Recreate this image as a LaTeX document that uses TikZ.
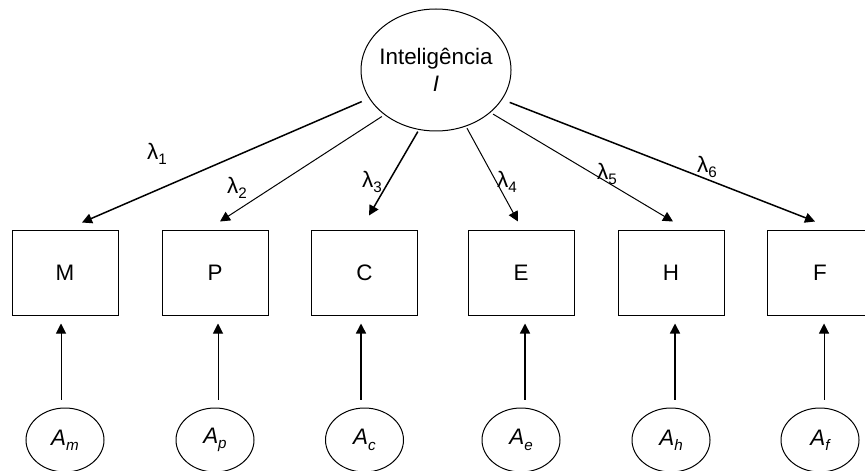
\documentclass[tikz,border=0pt]{standalone}
\usepackage{fontspec}
\setmainfont{Liberation Sans}
\usetikzlibrary{calc, shapes.geometric, arrows.meta}

\newcommand{\lowsub}[1]{\raisebox{-0.45ex}{\fontsize{7.6}{9}\selectfont #1}}

\begin{document}
\begin{tikzpicture}[x=0.5pt, y=-0.5pt, line width=0.5pt, >={Triangle[length=5pt, width=5pt]},
        font=\fontsize{11.2}{13.5}\selectfont,
        indicator/.style={draw, rectangle, inner sep=0pt, minimum width=53pt, minimum height=42.5pt},
        factor/.style={draw, ellipse, inner sep=0pt, minimum width=75pt, minimum height=61pt},
        residual/.style={draw, ellipse, inner sep=0pt, minimum width=39pt, minimum height=32pt},
        heavy/.style={line width=0.75pt}]
        \clip (0,0) rectangle (865,470);

        \node[factor] (intel) at (436,70) {};
        \node[align=center] (intelname) at (intel) {Inteligência\\ \textit{I}};

        \node[indicator] (M) at (65,272.5) {M};
        \node[indicator] (P) at (215,272.5) {P};
        \node[indicator] (C) at (364.5,272.5) {C};
        \node[indicator] (E) at (521,272.5) {E};
        \node[indicator] (H) at (671,272.5) {H};
        \node[indicator] (F) at (820,272.5) {F};

        \node[residual] (Am) at (65,440) {\textit{A\lowsub{m}}};
        \node[residual] (Ap) at (215,440) {\textit{A\lowsub{p}}};
        \node[residual] (Ac) at (364.5,440) {\textit{A\lowsub{c}}};
        \node[residual] (Ae) at (521,440) {\textit{A\lowsub{e}}};
        \node[residual] (Ah) at (671,440) {\textit{A\lowsub{h}}};
        \node[residual] (Af) at (820,440) {\textit{A\lowsub{f}}};

        % loadings
        \draw[->, heavy, shorten <=4pt] (intel.203) -- ($(M.north)+(17,-7)$);
        \draw[->, shorten <=1.5pt] (intel.221) -- ($(P.north)+(5,-8)$);
        \draw[->, heavy, shorten <=1pt] (intel.254) -- ($(C.north)+(4.5,-14)$);
        \draw[->, shorten <=1pt] (intel.298) -- ($(E.north)+(-3,-8)$);
        \draw[->, shorten <=1.5pt] (intel.322) -- ($(H.north)+(2,-8)$);
        \draw[->, heavy, shorten <=4pt] (intel.336) -- ($(F.north)+(-5,-8)$);

        \node (l1) at (157,154) {λ\lowsub{1}};
        \node (l2) at (237,188) {λ\lowsub{2}};
        \node (l3) at (372,182) {λ\lowsub{3}};
        \node (l4) at (507,182) {λ\lowsub{4}};
        \node (l5) at (607,174) {λ\lowsub{5}};
        \node (l6) at (707,167) {λ\lowsub{6}};

        % residuals
        \draw[->, shorten <=4pt, shorten >=4pt] ([xshift=-2pt]Am.north) -- ([xshift=-2pt]M.south);
        \draw[->, shorten <=4pt, shorten >=4pt] ([xshift=1.5pt]Ap.north) -- ([xshift=1.5pt]P.south);
        \draw[->, heavy, shorten <=4pt, shorten >=4pt] ([xshift=-1.75pt]Ac.north) -- ([xshift=-1.75pt]C.south);
        \draw[->, heavy, shorten <=4pt, shorten >=4pt] ([xshift=2pt]Ae.north) -- ([xshift=2pt]E.south);
        \draw[->, heavy, shorten <=4pt, shorten >=4pt] ([xshift=2pt]Ah.north) -- ([xshift=2pt]H.south);
        \draw[->, shorten <=4pt, shorten >=4pt] ([xshift=2pt]Af.north) -- ([xshift=2pt]F.south);
    \end{tikzpicture}
\end{document}
